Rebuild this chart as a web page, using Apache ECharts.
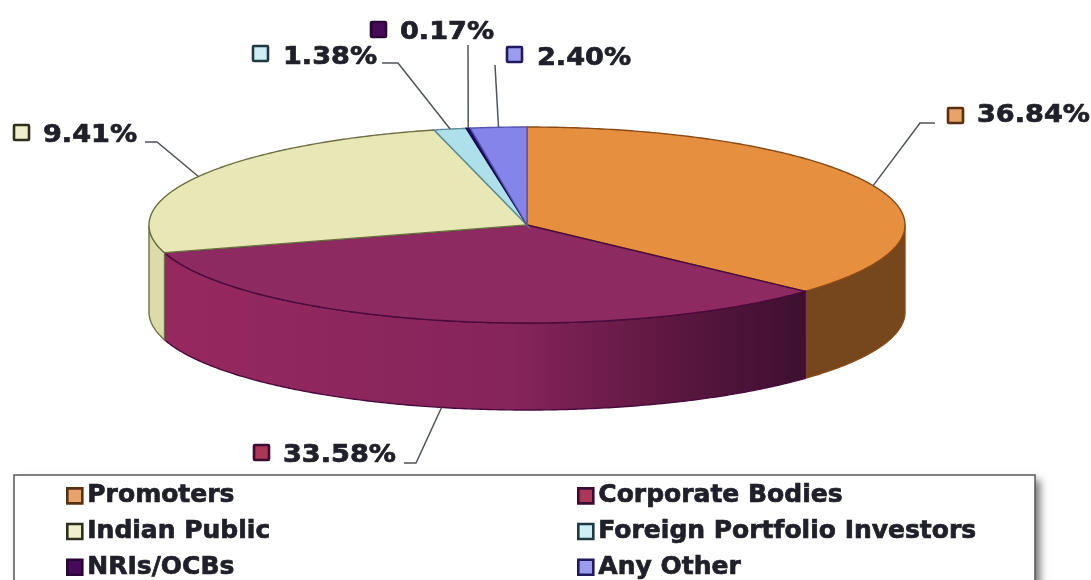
<!DOCTYPE html>
<html><head><meta charset="utf-8">
<style>html,body{margin:0;padding:0;background:#fff}#c{width:1091px;height:580px}</style>
<script src="https://cdn.jsdelivr.net/npm/echarts@6/dist/echarts.min.js"></script>
</head><body><div id="c"></div>
<script>
// Data
const categories = ['Promoters','Corporate Bodies','Indian Public','Foreign Portfolio Investors','NRIs/OCBs','Any Other'];
const sliceShares = [36.84,33.58,25.63,1.38,0.17,2.40];   // sizes of the drawn slices
const labelTexts  = ['36.84%','33.58%','9.41%','1.38%','0.17%','2.40%']; // printed labels

// Styles
const topColors  = ['#e68f3e','#8e2a62','#e8e8b6','#aee0ea','#1c1068','#8484ea'];
const edgeColors = ['#8a4a16','#4a0b3c','#6f6f44','#5f8f98','#140a50','#5555b0'];
const wallColors = ['#76461c','#8e2a60','#dcdcaa','#aee0ea','#1c1068','#8484ea'];
const keyFill    = ['#e8a36a','#ad3558','#efefcc','#cdeef2','#470a58','#9c9cee'];
const keyEdge    = ['#5a3010','#3a0c30','#2e2e1c','#1e3a40','#2a0638','#201a60'];

// Layout of the pie
const PIE = {cx:527, cy:225, rx:378, ry:98, depth:87};
// marker left/top, text left, text centre y, elbow points of the leader
const LABEL_POS = [
  {mx:948,my:108,tx:977,ty:116,leader:[[935,123],[920,123]]},
  {mx:254,my:445,tx:283,ty:456,leader:[[404,463],[416,463]],onWall:true},
  {mx:14, my:125,tx:43, ty:136,leader:[[145,142],[157,142]]},
  {mx:253,my:46, tx:283,ty:58, leader:[[382,63],[398,63]]},
  {mx:371,my:22, tx:400,ty:33, leader:[[468,45]]},
  {mx:507,my:47, tx:537,ty:59, leader:[[495,65]]}
];
const TEXT_FONT = 'bold 24px "DejaVu Sans"';
const TEXT_STRETCH = 1.13;
const TEXT_COLOR = '#20202a';

const total = sliceShares.reduce((a,b)=>a+b,0);
const ends = []; sliceShares.reduce((a,b,i)=>(ends[i]=a+b),0);
const angleOf = v => v/total*Math.PI*2;                  // clockwise from the top
const pt = (t,dy=0) => [PIE.cx+PIE.rx*Math.sin(t), PIE.cy-PIE.ry*Math.cos(t)+dy];
function arc(t0,t1,dy){ const n=Math.max(2,Math.ceil((t1-t0)/0.01)), out=[];
  for(let i=0;i<=n;i++) out.push(pt(t0+(t1-t0)*i/n,dy)); return out; }

function wallFill(i){
  if(i===1) return new echarts.graphic.LinearGradient(PIE.cx-PIE.rx,0,PIE.cx+280,0,[
    {offset:0,color:'#96295f'},{offset:0.55,color:'#86245c'},{offset:0.8,color:'#5c173f'},{offset:1,color:'#3c0f30'}],true);
  return wallColors[i];
}

function renderSlice(params,api){
  const i = params.seriesIndex;
  const share = api.value(0);
  const t1 = angleOf(ends[i]), t0 = t1-angleOf(share);
  const kids = [];
  // front wall: only the part between 90 and 270 degrees is visible
  const a = Math.max(t0,Math.PI/2), b = Math.min(t1,Math.PI*1.5);
  if(b>a){
    kids.push({type:'polygon',shape:{points:arc(a,b,0).concat(arc(a,b,PIE.depth).reverse())},
      style:{fill:wallFill(i),stroke:edgeColors[i],lineWidth:1.4}});
  }
  // top face
  kids.push({type:'polygon',shape:{points:[[PIE.cx,PIE.cy]].concat(arc(t0,t1,0))},
    style:{fill:topColors[i],stroke:edgeColors[i],lineWidth:1.4}});
  // leader, marker, text
  const L = LABEL_POS[i];
  const tip = pt((t0+t1)/2, L.onWall?PIE.depth:0);
  kids.push({type:'polyline',shape:{points:L.leader.concat([tip])},
    style:{fill:null,stroke:'#4f545a',lineWidth:1.5},z2:5});
  kids.push({type:'rect',shape:{x:L.mx,y:L.my,width:15,height:15,r:1},
    style:{fill:keyFill[i],stroke:keyEdge[i],lineWidth:2.6},z2:5});
  kids.push({type:'text',x:L.tx,y:L.ty,scaleX:TEXT_STRETCH,
    style:{x:0,y:0,text:labelTexts[i],font:TEXT_FONT,fill:TEXT_COLOR,stroke:TEXT_COLOR,lineWidth:0.7,align:'left',verticalAlign:'middle'},z2:5});
  return {type:'group',children:kids};
}

function legendData(idx){
  return idx.map(i=>({name:categories[i],icon:'rect',
    itemStyle:{color:keyFill[i],borderColor:keyEdge[i],borderWidth:2.6}}));
}
const legendBase = {orient:'vertical',top:483,height:200,itemWidth:15,itemHeight:15,itemGap:10,selectedMode:false,padding:0,
  textStyle:{fontFamily:'DejaVu Sans',fontWeight:'bold',fontSize:25,color:TEXT_COLOR,
    textBorderColor:TEXT_COLOR,textBorderWidth:0.7,padding:[0,0,0,0]}};

const chart = echarts.init(document.getElementById('c'),null,{renderer:'canvas'});
chart.setOption({
  animation:false,
  backgroundColor:'#ffffff',
  graphic:[
    {type:'rect',z:0,shape:{x:14,y:475,width:1021,height:130},
      style:{fill:'#fff',shadowBlur:8,shadowOffsetX:5,shadowOffsetY:5,shadowColor:'rgba(0,0,0,0.55)'}},
    {type:'rect',z:1,shape:{x:14,y:475,width:1021,height:130},
      style:{fill:'#fff',stroke:'#55585c',lineWidth:1.5}}
  ],
  legend:[
    Object.assign({},legendBase,{left:66,data:legendData([0,2,4])}),
    Object.assign({},legendBase,{left:577,data:legendData([1,3,5])})
  ],
  series:categories.map((name,i)=>({
    type:'custom',name,coordinateSystem:'none',silent:true,
    itemStyle:{color:topColors[i]},
    data:[[sliceShares[i]]],
    renderItem:renderSlice
  }))
});
</script></body></html>
